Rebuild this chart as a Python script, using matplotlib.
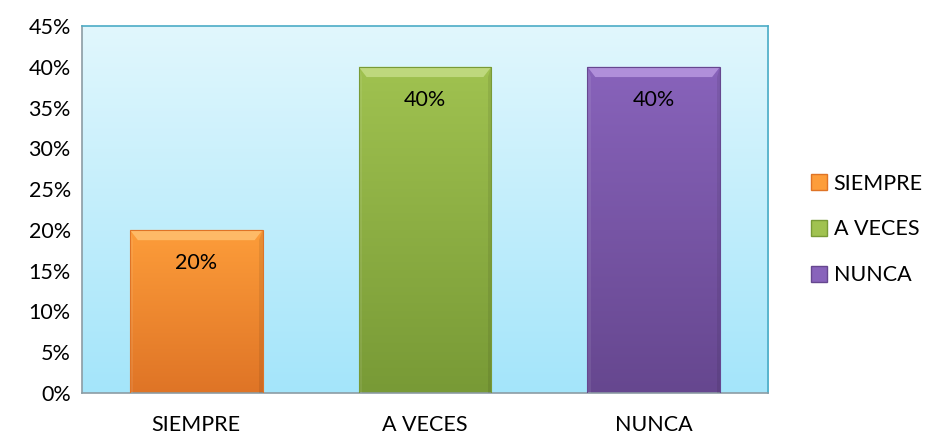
import numpy as np
import matplotlib.pyplot as plt
from matplotlib.patches import Polygon, Patch
from matplotlib.colors import LinearSegmentedColormap

# -----------------------------
# Data
# -----------------------------
categories = ["SIEMPRE", "A VECES", "NUNCA"]
values = [0.20, 0.40, 0.40]
value_labels = ["20%", "40%", "40%"]
y_ticks = [0.0, 0.05, 0.10, 0.15, 0.20, 0.25, 0.30, 0.35, 0.40, 0.45]
y_tick_labels = ["0%", "5%", "10%", "15%", "20%", "25%", "30%", "35%", "40%", "45%"]

# top colour, bottom colour, bevel highlight
BAR_COLORS = [
    ("#fd9d3a", "#df7426", "#ffc070"),
    ("#a0c250", "#789a36", "#c4dd86"),
    ("#8863bb", "#66478f", "#b898e0"),
]

plt.rcParams["font.family"] = ["Lato", "DejaVu Sans"]
FS = 15.5

fig = plt.figure(figsize=(9.31, 4.37), dpi=100)
ax = fig.add_axes([0.088, 0.1007, 0.737, 0.8398])

x = np.arange(len(categories))
width = 0.58
ax.set_xlim(-0.5, len(categories) - 0.5)
ax.set_ylim(0, 0.45)

# background gradient of the plot area
bg = LinearSegmentedColormap.from_list("bg", ["#a4e5fa", "#e1f7fd"])
ax.imshow(np.linspace(0, 1, 256).reshape(-1, 1), cmap=bg, aspect="auto",
          extent=[-0.5, len(categories) - 0.5, 0, 0.45], origin="lower", zorder=0)

bars = ax.bar(x, values, width=width, color="none", edgecolor="none", zorder=2)

for bar, (top_c, bot_c, hi_c), lab in zip(bars, BAR_COLORS, value_labels):
    x0, y0 = bar.get_x(), bar.get_y()
    w, h = bar.get_width(), bar.get_height()
    cmap = LinearSegmentedColormap.from_list("b", [bot_c, top_c])
    im = ax.imshow(np.linspace(0, 1, 256).reshape(-1, 1), cmap=cmap, aspect="auto",
                   extent=[x0, x0 + w, y0, y0 + h], origin="lower", zorder=2)
    im.set_clip_path(bar)
    # bevel: light top strip, darker sides
    dx, dy = w * 0.06, 0.45 * 0.028
    top = Polygon([(x0, h), (x0 + w, h), (x0 + w - dx, h - dy), (x0 + dx, h - dy)],
                  closed=True, facecolor=hi_c, edgecolor="none", alpha=0.85, zorder=3)
    ax.add_patch(top)
    right = Polygon([(x0 + w, h), (x0 + w, 0), (x0 + w - dx * 0.4, 0), (x0 + w - dx * 0.4, h - dy)],
                    closed=True, facecolor="black", edgecolor="none", alpha=0.08, zorder=3)
    ax.add_patch(right)
    left = Polygon([(x0, h), (x0, 0), (x0 + dx * 0.4, 0), (x0 + dx * 0.4, h - dy)],
                   closed=True, facecolor="white", edgecolor="none", alpha=0.08, zorder=3)
    ax.add_patch(left)
    ax.add_patch(plt.Rectangle((x0, y0), w, h, fill=False, edgecolor=bot_c, lw=0.8, zorder=4))
    ax.annotate(lab, (x0 + w / 2, h), xytext=(0, -24), textcoords="offset points",
                ha="center", va="center", fontsize=FS, color="black", zorder=5)

ax.set_xticks(x)
ax.set_xticklabels(categories, fontsize=FS)
ax.set_yticks(y_ticks)
ax.set_yticklabels(y_tick_labels, fontsize=FS)
ax.tick_params(length=0, pad=8)
ax.tick_params(axis="x", pad=16)

for side in ["top", "right"]:
    ax.spines[side].set_color("#4bacc6")
    ax.spines[side].set_linewidth(1.2)
for side in ["left", "bottom"]:
    ax.spines[side].set_color("#8c9ca4")
    ax.spines[side].set_linewidth(1.2)

handles = [Patch(facecolor=c[0], edgecolor=c[1]) for c in BAR_COLORS]
fig.legend(handles, categories, loc="center left", bbox_to_anchor=(0.871, 0.475),
           frameon=False, fontsize=FS, handlelength=0.75, handleheight=0.75,
           labelspacing=1.2, handletextpad=0.3, borderpad=0, borderaxespad=0)

fig.savefig("out.png", dpi=100)
